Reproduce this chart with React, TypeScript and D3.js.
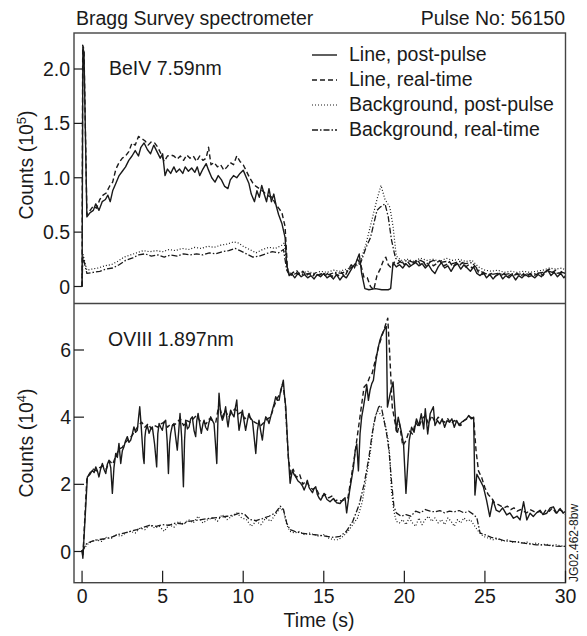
import React from "react";
import * as d3 from "d3";

type P = [number, number];

// ---------- Top panel (BeIV 7.59nm), counts in 10^5 ----------
const topLinePost: P[] = [[0,0],[0.05,2.2],[0.12,2.15],[0.3,0.64],[0.5,0.68],[0.7,0.7],[0.85,0.76],[1.05,0.7],[1.25,0.78],[1.45,0.8],[1.6,0.84],[1.75,0.78],[1.9,0.88],[2.1,0.95],[2.3,1.02],[2.5,1.06],[2.7,1.1],[2.9,1.16],[3.1,1.2],[3.3,1.25],[3.5,1.2],[3.65,1.28],[3.85,1.32],[4.05,1.26],[4.25,1.22],[4.45,1.3],[4.65,1.24],[4.85,1.18],[5.0,1.22],[5.15,1.02],[5.3,1.08],[5.5,1.04],[5.7,1.1],[5.85,1.05],[6.05,1.08],[6.25,1.04],[6.4,1.1],[6.6,1.06],[6.8,1.09],[7.0,1.05],[7.15,1.1],[7.3,1.02],[7.5,1.08],[7.7,1.13],[7.85,1.07],[8.05,1.0],[8.25,0.96],[8.45,1.02],[8.65,0.98],[8.85,0.92],[9.05,0.9],[9.2,0.98],[9.4,1.02],[9.6,1.0],[9.8,1.04],[10.0,1.07],[10.2,1.0],[10.35,0.95],[10.5,0.85],[10.7,0.78],[10.85,0.88],[11.0,0.82],[11.15,0.93],[11.3,0.85],[11.45,0.78],[11.6,0.9],[11.75,0.78],[11.9,0.85],[12.05,0.74],[12.2,0.66],[12.4,0.58],[12.6,0.45],[12.7,0.2],[12.85,0.1],[13.0,0.12],[13.2,0.08],[13.4,0.12],[13.6,0.09],[13.8,0.11],[14.0,0.08],[14.2,0.1],[14.4,0.07],[14.6,0.11],[14.8,0.09],[15.0,0.12],[15.2,0.08],[15.4,0.1],[15.6,0.07],[15.8,0.11],[16.0,0.06],[16.2,0.1],[16.4,0.08],[16.6,0.13],[16.8,0.18],[17.0,0.22],[17.2,0.3],[17.35,0.12],[17.55,-0.02],[17.8,-0.03],[18.2,-0.02],[18.6,-0.03],[19.0,-0.03],[19.15,-0.02],[19.3,0.22],[19.5,0.18],[19.7,0.2],[19.9,0.17],[20.1,0.21],[20.3,0.18],[20.5,0.2],[20.7,0.22],[20.9,0.19],[21.1,0.21],[21.3,0.17],[21.5,0.2],[21.7,0.15],[21.9,0.12],[22.1,0.18],[22.3,0.22],[22.5,0.17],[22.7,0.19],[22.9,0.14],[23.1,0.19],[23.3,0.21],[23.5,0.16],[23.7,0.2],[23.9,0.17],[24.1,0.14],[24.3,0.18],[24.5,0.12],[24.7,0.1],[24.9,0.13],[25.1,0.08],[25.3,0.11],[25.5,0.07],[25.7,0.1],[25.9,0.12],[26.1,0.07],[26.3,0.1],[26.5,0.08],[26.7,0.11],[26.9,0.06],[27.1,0.1],[27.3,0.08],[27.5,0.11],[27.7,0.09],[27.9,0.1],[28.1,0.08],[28.3,0.11],[28.5,0.09],[28.7,0.13],[28.9,0.15],[29.1,0.1],[29.3,0.13],[29.5,0.09],[29.7,0.12],[29.9,0.08],[30,0.1]];

const topLineReal: P[] = [[0,0],[0.04,2.22],[0.12,2.18],[0.3,0.66],[0.5,0.7],[0.7,0.74],[0.9,0.72],[1.1,0.8],[1.3,0.84],[1.5,0.86],[1.7,0.92],[1.9,0.96],[2.1,1.08],[2.3,1.14],[2.5,1.18],[2.7,1.2],[2.9,1.24],[3.1,1.32],[3.3,1.3],[3.5,1.38],[3.7,1.36],[3.9,1.34],[4.1,1.3],[4.3,1.33],[4.5,1.32],[4.7,1.28],[4.9,1.22],[5.1,1.15],[5.3,1.2],[5.5,1.21],[5.7,1.2],[5.9,1.17],[6.1,1.2],[6.3,1.16],[6.5,1.21],[6.7,1.18],[6.9,1.2],[7.1,1.15],[7.3,1.2],[7.5,1.16],[7.7,1.18],[7.85,1.28],[8.0,1.12],[8.2,1.14],[8.4,1.1],[8.6,1.12],[8.8,1.07],[9.0,1.1],[9.2,1.14],[9.4,1.12],[9.6,1.2],[9.8,1.15],[10.0,1.12],[10.2,1.06],[10.4,1.0],[10.6,0.95],[10.8,0.92],[11.0,0.9],[11.2,0.88],[11.4,0.85],[11.6,0.83],[11.8,0.82],[12.0,0.76],[12.2,0.72],[12.4,0.68],[12.6,0.55],[12.75,0.15],[12.9,0.1],[13.1,0.13],[13.3,0.15],[13.5,0.11],[13.7,0.14],[13.9,0.1],[14.1,0.12],[14.3,0.09],[14.5,0.13],[14.7,0.1],[14.9,0.12],[15.1,0.1],[15.3,0.13],[15.5,0.09],[15.7,0.12],[15.9,0.1],[16.1,0.13],[16.3,0.09],[16.5,0.15],[16.7,0.2],[16.9,0.17],[17.1,0.25],[17.3,0.2],[17.5,0.08],[17.7,0.08],[17.9,0.0],[18.1,-0.03],[18.3,0.1],[18.5,0.16],[18.7,0.24],[18.85,0.27],[19.0,0.2],[19.2,0.17],[19.4,0.23],[19.6,0.21],[19.8,0.24],[20.0,0.2],[20.2,0.23],[20.4,0.19],[20.6,0.22],[20.8,0.25],[21.0,0.2],[21.2,0.22],[21.4,0.18],[21.6,0.23],[21.8,0.19],[22.0,0.21],[22.2,0.24],[22.4,0.19],[22.6,0.2],[22.8,0.23],[23.0,0.18],[23.2,0.21],[23.4,0.19],[23.6,0.22],[23.8,0.18],[24.0,0.2],[24.2,0.17],[24.4,0.19],[24.6,0.13],[24.8,0.11],[25.0,0.12],[25.2,0.1],[25.4,0.12],[25.6,0.09],[25.8,0.11],[26.0,0.1],[26.2,0.12],[26.4,0.09],[26.6,0.11],[26.8,0.1],[27.0,0.12],[27.2,0.1],[27.4,0.11],[27.6,0.09],[27.8,0.12],[28.0,0.1],[28.2,0.11],[28.4,0.13],[28.6,0.1],[28.8,0.14],[29.0,0.16],[29.2,0.13],[29.4,0.15],[29.6,0.12],[29.8,0.14],[30,0.12]];

const topBgPost: P[] = [[0,0],[0.05,0.3],[0.3,0.15],[0.6,0.16],[1.0,0.17],[1.4,0.19],[1.8,0.2],[2.2,0.23],[2.6,0.27],[3.0,0.29],[3.4,0.31],[3.8,0.33],[4.2,0.32],[4.6,0.33],[5.0,0.32],[5.4,0.34],[5.8,0.33],[6.2,0.35],[6.6,0.34],[7.0,0.36],[7.4,0.35],[7.8,0.37],[8.2,0.36],[8.6,0.38],[9.0,0.39],[9.4,0.41],[9.7,0.4],[10.0,0.37],[10.4,0.34],[10.8,0.31],[11.2,0.34],[11.6,0.36],[12.0,0.35],[12.4,0.38],[12.55,0.4],[12.7,0.2],[12.85,0.12],[13.2,0.13],[13.6,0.12],[14.0,0.14],[14.4,0.12],[14.8,0.14],[15.2,0.13],[15.6,0.15],[16.0,0.14],[16.4,0.16],[16.8,0.18],[17.2,0.2],[17.6,0.38],[18.0,0.62],[18.3,0.8],[18.55,0.93],[18.8,0.8],[19.1,0.73],[19.3,0.55],[19.5,0.28],[19.8,0.24],[20.2,0.25],[20.6,0.23],[21.0,0.26],[21.4,0.24],[21.8,0.25],[22.2,0.23],[22.6,0.26],[23.0,0.24],[23.4,0.25],[23.8,0.23],[24.2,0.24],[24.6,0.18],[25.0,0.15],[25.4,0.14],[25.8,0.15],[26.2,0.13],[26.6,0.14],[27.0,0.13],[27.4,0.14],[27.8,0.13],[28.2,0.14],[28.6,0.15],[29.0,0.17],[29.4,0.16],[29.8,0.17],[30,0.15]];

const topBgReal: P[] = [[0,0],[0.05,0.28],[0.3,0.12],[0.7,0.13],[1.1,0.14],[1.5,0.16],[1.9,0.17],[2.3,0.2],[2.7,0.24],[3.1,0.26],[3.5,0.29],[3.9,0.3],[4.3,0.28],[4.7,0.29],[5.1,0.27],[5.5,0.29],[5.9,0.28],[6.3,0.3],[6.7,0.29],[7.1,0.3],[7.5,0.29],[7.9,0.31],[8.3,0.3],[8.7,0.32],[9.1,0.33],[9.5,0.35],[9.8,0.33],[10.2,0.3],[10.6,0.27],[11.0,0.28],[11.4,0.3],[11.8,0.32],[12.2,0.31],[12.5,0.34],[12.7,0.15],[12.9,0.1],[13.3,0.12],[13.7,0.11],[14.1,0.12],[14.5,0.1],[14.9,0.12],[15.3,0.11],[15.7,0.13],[16.1,0.12],[16.5,0.15],[16.9,0.2],[17.3,0.22],[17.6,0.35],[17.9,0.45],[18.3,0.7],[18.5,0.73],[18.8,0.76],[19.0,0.64],[19.2,0.43],[19.45,0.26],[19.8,0.22],[20.2,0.24],[20.6,0.22],[21.0,0.24],[21.4,0.21],[21.8,0.24],[22.2,0.22],[22.6,0.23],[23.0,0.21],[23.4,0.23],[23.8,0.21],[24.2,0.22],[24.6,0.15],[25.0,0.12],[25.4,0.11],[25.8,0.12],[26.2,0.11],[26.6,0.12],[27.0,0.11],[27.4,0.12],[27.8,0.11],[28.2,0.12],[28.6,0.13],[29.0,0.14],[29.4,0.12],[29.8,0.13],[30,0.12]];

// ---------- Bottom panel (OVIII 1.897nm), counts in 10^4 ----------
const botLinePost: P[] = [[0,0.05],[0.05,-0.2],[0.33,2.22],[0.5,2.3],[0.64,2.42],[0.75,2.35],[0.85,2.52],[0.95,2.4],[1.05,2.22],[1.15,2.45],[1.26,2.62],[1.36,2.45],[1.47,2.32],[1.57,2.6],[1.67,2.72],[1.78,2.5],[1.88,1.73],[1.98,2.5],[2.09,2.92],[2.19,2.8],[2.29,3.22],[2.4,2.62],[2.5,3.0],[2.6,3.12],[2.7,3.3],[2.81,3.42],[2.91,3.25],[3.02,3.32],[3.12,3.5],[3.22,3.71],[3.32,3.55],[3.43,3.61],[3.52,4.05],[3.58,4.31],[3.66,3.8],[3.74,3.22],[3.8,2.8],[3.85,2.62],[3.9,3.4],[3.95,3.61],[4.05,3.75],[4.16,3.52],[4.26,3.65],[4.36,3.71],[4.5,3.2],[4.63,2.52],[4.7,3.5],[4.78,3.81],[4.88,3.7],[4.98,3.61],[5.08,3.85],[5.19,3.91],[5.28,3.3],[5.36,2.32],[5.43,3.2],[5.5,3.52],[5.6,3.75],[5.71,3.81],[5.81,3.4],[5.91,3.02],[6.0,3.6],[6.08,4.11],[6.18,3.4],[6.29,1.93],[6.36,3.3],[6.43,3.91],[6.54,3.65],[6.64,3.71],[6.74,3.95],[6.84,4.01],[6.95,3.6],[7.05,3.42],[7.12,3.9],[7.2,4.11],[7.3,3.8],[7.4,3.52],[7.5,3.8],[7.57,3.91],[7.67,3.7],[7.78,3.61],[7.88,3.85],[7.98,4.01],[8.09,3.9],[8.19,3.81],[8.28,3.2],[8.36,2.62],[8.43,3.9],[8.5,4.71],[8.6,4.1],[8.71,3.91],[8.81,4.05],[8.91,4.31],[9.0,3.9],[9.06,3.71],[9.14,4.0],[9.22,4.21],[9.32,4.1],[9.43,4.01],[9.52,4.3],[9.6,4.51],[9.67,4.0],[9.74,3.61],[9.85,3.9],[9.95,4.21],[10.05,3.9],[10.15,3.61],[10.26,3.9],[10.36,4.11],[10.46,3.95],[10.57,3.91],[10.68,3.4],[10.78,2.92],[10.88,3.6],[10.98,3.91],[11.08,3.6],[11.19,3.32],[11.3,3.8],[11.4,4.01],[11.5,3.95],[11.6,3.81],[11.7,4.0],[11.81,4.21],[11.92,4.4],[12.02,4.61],[12.12,4.5],[12.23,4.51],[12.33,4.81],[12.42,4.95],[12.49,5.1],[12.57,4.6],[12.64,4.31],[12.78,3.0],[12.91,2.03],[13.05,2.42],[13.15,2.3],[13.26,2.22],[13.4,2.1],[13.57,2.03],[13.68,1.95],[13.78,1.83],[13.88,1.95],[13.98,2.12],[14.09,1.9],[14.19,1.83],[14.3,1.75],[14.4,1.88],[14.5,1.93],[14.6,1.7],[14.7,1.6],[14.81,1.53],[14.91,1.62],[15.02,1.73],[15.2,1.55],[15.39,1.48],[15.6,1.58],[15.8,1.45],[16.01,1.43],[16.2,1.55],[16.32,1.6],[16.42,1.15],[16.6,1.8],[16.84,2.5],[16.95,3.0],[17.05,3.2],[17.15,2.4],[17.25,3.5],[17.35,4.0],[17.46,4.3],[17.56,4.6],[17.67,4.95],[17.77,4.5],[17.87,4.8],[17.98,5.0],[18.08,5.1],[18.18,5.5],[18.29,5.85],[18.39,6.1],[18.49,6.3],[18.6,6.45],[18.75,6.6],[18.88,6.7],[18.95,4.3],[19.12,4.7],[19.3,5.05],[19.5,3.6],[19.62,4.0],[19.8,3.6],[19.95,3.2],[20.1,1.73],[20.3,3.3],[20.45,3.7],[20.6,3.55],[20.75,3.95],[20.9,3.75],[21.05,4.1],[21.2,3.65],[21.3,4.25],[21.45,3.5],[21.6,4.1],[21.8,4.31],[21.9,3.75],[22.05,3.9],[22.2,3.8],[22.35,3.95],[22.5,3.7],[22.65,3.9],[22.8,3.85],[22.95,3.95],[23.1,3.7],[23.25,3.9],[23.4,3.75],[23.55,3.85],[23.7,3.9],[23.85,3.95],[24.0,4.05],[24.15,3.95],[24.3,4.0],[24.38,1.68],[24.5,2.3],[24.7,2.12],[24.9,1.93],[25.1,1.53],[25.3,1.04],[25.5,1.53],[25.7,1.23],[25.9,1.18],[26.1,1.3],[26.35,1.09],[26.55,1.15],[26.77,0.99],[27.0,1.05],[27.18,0.94],[27.4,1.48],[27.6,0.94],[27.8,1.14],[28.0,1.04],[28.2,1.15],[28.42,1.23],[28.6,1.1],[28.84,1.14],[29.05,1.3],[29.25,1.33],[29.45,1.14],[29.67,1.28],[29.85,1.14],[30,1.2]];

const botLineReal: P[] = [[0,0.05],[0.05,-0.15],[0.3,2.2],[0.5,2.35],[0.7,2.45],[0.9,2.4],[1.1,2.5],[1.3,2.55],[1.5,2.45],[1.7,2.7],[1.9,2.6],[2.1,2.85],[2.3,3.05],[2.5,3.1],[2.7,3.25],[2.9,3.35],[3.1,3.45],[3.3,3.6],[3.5,3.75],[3.7,3.85],[3.9,3.7],[4.1,3.8],[4.3,3.65],[4.5,3.75],[4.7,3.7],[4.9,3.8],[5.1,3.85],[5.3,3.7],[5.5,3.8],[5.7,3.75],[5.9,3.85],[6.1,3.95],[6.3,3.75],[6.5,3.9],[6.7,3.85],[6.9,3.95],[7.1,4.05],[7.3,3.9],[7.5,3.85],[7.7,3.8],[7.9,3.95],[8.1,3.9],[8.3,3.85],[8.5,4.4],[8.7,4.0],[8.9,4.2],[9.1,4.0],[9.3,4.15],[9.5,4.25],[9.7,4.1],[9.9,4.15],[10.1,3.95],[10.3,4.05],[10.5,3.95],[10.7,3.85],[10.9,3.8],[11.1,3.75],[11.3,3.85],[11.5,3.95],[11.7,4.0],[11.9,4.3],[12.1,4.55],[12.3,4.7],[12.45,5.0],[12.6,4.5],[12.8,2.8],[12.95,2.3],[13.1,2.45],[13.3,2.2],[13.5,2.3],[13.7,2.0],[13.9,2.1],[14.1,1.95],[14.3,1.85],[14.5,1.9],[14.7,1.7],[14.9,1.65],[15.1,1.7],[15.3,1.6],[15.5,1.65],[15.7,1.5],[15.9,1.55],[16.1,1.5],[16.3,1.55],[16.5,1.6],[16.7,2.2],[16.9,2.8],[17.1,3.5],[17.3,4.2],[17.5,4.9],[17.7,5.0],[17.85,5.2],[18.0,5.3],[18.2,5.7],[18.4,6.1],[18.6,6.4],[18.8,6.7],[18.97,6.95],[19.1,5.8],[19.25,4.3],[19.4,3.9],[19.55,3.5],[19.7,3.8],[19.9,3.15],[20.1,3.3],[20.3,3.6],[20.5,3.5],[20.7,3.85],[20.9,3.7],[21.1,3.95],[21.3,4.05],[21.5,3.8],[21.7,4.05],[21.9,3.85],[22.1,4.0],[22.3,3.9],[22.5,3.85],[22.7,3.95],[22.9,3.8],[23.1,3.9],[23.3,3.85],[23.5,3.75],[23.7,3.9],[23.9,3.95],[24.1,4.0],[24.3,3.95],[24.45,3.0],[24.6,2.4],[24.8,2.2],[25.0,1.9],[25.2,1.7],[25.4,1.6],[25.6,1.45],[25.8,1.4],[26.0,1.35],[26.2,1.3],[26.4,1.35],[26.6,1.25],[26.8,1.3],[27.0,1.2],[27.2,1.25],[27.4,1.2],[27.6,1.15],[27.8,1.25],[28.0,1.2],[28.2,1.15],[28.4,1.2],[28.6,1.1],[28.8,1.25],[29.0,1.2],[29.2,1.3],[29.4,1.15],[29.6,1.25],[29.8,1.2],[30,1.1]];

const botBgPost: P[] = [[0,0.0],[0.3,0.2],[0.6,0.3],[0.9,0.35],[1.2,0.3],[1.5,0.42],[1.8,0.38],[2.1,0.5],[2.4,0.45],[2.7,0.55],[3.0,0.6],[3.3,0.55],[3.6,0.7],[3.9,0.65],[4.2,0.8],[4.5,0.7],[4.8,0.75],[5.1,0.6],[5.4,0.8],[5.7,0.72],[6.0,0.9],[6.3,0.8],[6.6,0.95],[6.9,0.85],[7.2,1.05],[7.5,0.85],[7.8,0.95],[8.1,1.0],[8.4,0.9],[8.7,1.1],[9.0,0.95],[9.3,1.05],[9.6,1.15],[9.9,1.0],[10.2,0.95],[10.5,0.75],[10.8,0.9],[11.1,0.8],[11.4,1.0],[11.7,0.9],[12.0,1.1],[12.3,1.3],[12.5,1.2],[12.7,0.8],[12.9,0.6],[13.2,0.55],[13.5,0.6],[13.8,0.5],[14.1,0.55],[14.4,0.5],[14.7,0.45],[15.0,0.5],[15.3,0.4],[15.6,0.35],[15.9,0.35],[16.2,0.45],[16.5,0.6],[16.8,0.8],[17.1,1.0],[17.4,1.5],[17.7,2.4],[17.9,3.0],[18.1,3.8],[18.3,4.2],[18.5,4.1],[18.7,4.0],[18.9,3.6],[19.0,3.3],[19.1,2.8],[19.2,1.8],[19.35,1.2],[19.5,0.9],[19.7,0.85],[19.9,0.95],[20.1,0.8],[20.3,1.0],[20.5,0.85],[20.7,0.75],[20.9,1.0],[21.1,0.8],[21.3,0.95],[21.5,1.05],[21.7,0.9],[21.9,1.0],[22.1,0.85],[22.3,0.95],[22.5,0.8],[22.7,1.0],[22.9,0.9],[23.1,0.75],[23.3,0.95],[23.5,0.85],[23.7,1.0],[23.9,0.9],[24.1,0.95],[24.3,0.8],[24.6,0.6],[24.9,0.45],[25.2,0.4],[25.5,0.35],[25.8,0.38],[26.1,0.3],[26.4,0.35],[26.7,0.28],[27.0,0.3],[27.3,0.25],[27.6,0.28],[27.9,0.22],[28.2,0.25],[28.5,0.2],[28.8,0.22],[29.1,0.18],[29.4,0.2],[29.7,0.17],[30,0.15]];

const botBgReal: P[] = [[0,0.0],[0.3,0.25],[0.6,0.3],[1.0,0.35],[1.4,0.38],[1.8,0.42],[2.2,0.5],[2.6,0.55],[3.0,0.6],[3.4,0.65],[3.8,0.72],[4.2,0.78],[4.6,0.75],[5.0,0.8],[5.4,0.78],[5.8,0.85],[6.2,0.82],[6.6,0.9],[7.0,0.92],[7.4,0.95],[7.8,0.98],[8.2,1.0],[8.6,1.02],[9.0,1.05],[9.4,1.08],[9.8,1.15],[10.1,1.1],[10.4,0.95],[10.8,0.92],[11.2,0.98],[11.6,1.05],[12.0,1.15],[12.3,1.35],[12.5,1.25],[12.7,0.85],[12.9,0.65],[13.2,0.6],[13.6,0.55],[14.0,0.52],[14.4,0.5],[14.8,0.48],[15.2,0.45],[15.6,0.42],[16.0,0.45],[16.4,0.6],[16.8,0.9],[17.2,1.4],[17.5,2.0],[17.8,2.8],[18.0,3.5],[18.2,4.0],[18.4,4.3],[18.55,4.35],[18.7,4.0],[18.9,3.5],[19.05,3.0],[19.2,2.1],[19.35,1.35],[19.5,1.15],[19.8,1.05],[20.1,1.1],[20.4,1.05],[20.7,1.2],[21.0,1.15],[21.3,1.25],[21.6,1.2],[21.9,1.18],[22.2,1.22],[22.5,1.15],[22.8,1.2],[23.1,1.18],[23.4,1.22],[23.7,1.15],[24.0,1.2],[24.3,1.1],[24.5,1.0],[24.7,0.55],[25.0,0.5],[25.4,0.42],[25.8,0.38],[26.2,0.32],[26.6,0.3],[27.0,0.28],[27.4,0.25],[27.8,0.22],[28.2,0.2],[28.6,0.2],[29.0,0.18],[29.4,0.16],[29.8,0.15],[30,0.15]];

const xTicks = [0, 5, 10, 15, 20, 25, 30];
const topTicks = [0, 0.5, 1.0, 1.5, 2.0];
const topTickLabels = ["0", "0.5", "1.0", "1.5", "2.0"];
const botTicks = [0, 2, 4, 6];
const botTickLabels = ["0", "2", "4", "6"];
const legendLabels = ["Line, post-pulse", "Line, real-time", "Background, post-pulse", "Background, real-time"];

const W = 587, H = 636;
const L = 74, R = 565.5, T = 33, MID = 303.5, B = 582.7;
const FONT = "'Liberation Sans', Arial, Helvetica, sans-serif";
const INK = "#1a1a1a";

const styles = [
  { dash: undefined as string | undefined, w: 1.4 },
  { dash: "5 3", w: 1.4 },
  { dash: "1 2", w: 1.2 },
  { dash: "6 2 1.5 2", w: 1.3 },
];

export default function App() {
  const x = d3.scaleLinear().domain([-0.5, 30]).range([L, R]);
  const yTop = d3.scaleLinear().domain([0, 2]).range([286.5, 69]);
  const yBot = d3.scaleLinear().domain([0, 6]).range([551.5, 350]);

  const mk = (ys: d3.ScaleLinear<number, number>) =>
    d3.line<P>().x((d) => x(d[0])).y((d) => ys(d[1]));
  const lTop = mk(yTop);
  const lBot = mk(yBot);

  const topSeries = [topLinePost, topLineReal, topBgPost, topBgReal];
  const botSeries = [botLinePost, botLineReal, botBgPost, botBgReal];

  const fs = 19.5;

  return (
    <svg width={W} height={H} style={{ position: "absolute", left: 0, top: 0, background: "#fff" }} fontFamily={FONT}>
      <defs>
        <clipPath id="cTop"><rect x={L} y={T} width={R - L} height={MID - T} /></clipPath>
        <clipPath id="cBot"><rect x={L} y={MID} width={R - L} height={B - MID} /></clipPath>
      </defs>
      <rect x={0} y={0} width={W} height={H} fill="#fff" />

      {/* titles */}
      <text x={76} y={25} fontSize={fs} fill={INK}>Bragg Survey spectrometer</text>
      <text x={565} y={25} fontSize={fs} fill={INK} textAnchor="end">Pulse No: 56150</text>

      {/* data */}
      <g clipPath="url(#cTop)">
        {topSeries.map((s, i) => (
          <path key={i} d={lTop(s) || ""} fill="none" stroke={INK} strokeWidth={styles[i].w} strokeDasharray={styles[i].dash} strokeLinejoin="round" />
        ))}
      </g>
      <g clipPath="url(#cBot)">
        {botSeries.map((s, i) => (
          <path key={i} d={lBot(s) || ""} fill="none" stroke={INK} strokeWidth={styles[i].w} strokeDasharray={styles[i].dash} strokeLinejoin="round" />
        ))}
      </g>

      {/* frame */}
      <rect x={L} y={T} width={R - L} height={B - T} fill="none" stroke="#444" strokeWidth={1.4} />
      <line x1={L} x2={R} y1={MID} y2={MID} stroke="#444" strokeWidth={1.4} />

      {/* y ticks top */}
      {topTicks.map((v, i) => (
        <g key={"tt" + i}>
          <line x1={L} x2={L + 8} y1={yTop(v)} y2={yTop(v)} stroke={INK} strokeWidth={1.2} />
          <text x={70} y={yTop(v) + 7} fontSize={fs} textAnchor="end" fill={INK}>{topTickLabels[i]}</text>
        </g>
      ))}
      {botTicks.map((v, i) => (
        <g key={"bt" + i}>
          <line x1={L} x2={L + 10} y1={yBot(v)} y2={yBot(v)} stroke={INK} strokeWidth={1.2} />
          <text x={71} y={yBot(v) + 7} fontSize={fs} textAnchor="end" fill={INK}>{botTickLabels[i]}</text>
        </g>
      ))}
      {/* x ticks */}
      {xTicks.map((v) => (
        <g key={"xt" + v}>
          <line x1={x(v)} x2={x(v)} y1={B} y2={B - 12} stroke={INK} strokeWidth={1.2} />
          <text x={x(v)} y={603} fontSize={fs} textAnchor="middle" fill={INK}>{v}</text>
        </g>
      ))}

      {/* axis titles */}
      <text x={319} y={627} fontSize={fs} textAnchor="middle" fill={INK}>Time (s)</text>
      <text transform={`translate(33,165) rotate(-90)`} fontSize={fs} textAnchor="middle" fill={INK}>
        Counts (10<tspan dy={-7} fontSize={13}>5</tspan><tspan dy={7}>)</tspan>
      </text>
      <text transform={`translate(33,443) rotate(-90)`} fontSize={fs} textAnchor="middle" fill={INK}>
        Counts (10<tspan dy={-7} fontSize={13}>4</tspan><tspan dy={7}>)</tspan>
      </text>

      {/* panel labels */}
      <text x={109} y={75} fontSize={fs} fill={INK}>BeIV 7.59nm</text>
      <text x={108} y={346} fontSize={fs} fill={INK}>OVIII 1.897nm</text>

      {/* legend */}
      {legendLabels.map((lab, i) => (
        <g key={"lg" + i}>
          <line x1={312} x2={337} y1={61 + i * 25 - 6} y2={61 + i * 25 - 6} stroke={INK} strokeWidth={styles[i].w} strokeDasharray={styles[i].dash} />
          <text x={349} y={61 + i * 25} fontSize={fs} fill={INK}>{lab}</text>
        </g>
      ))}

      {/* figure id */}
      <text transform={`translate(578,582) rotate(-90)`} fontSize={12} fill={INK}>JG02.462-8bw</text>
    </svg>
  );
}
